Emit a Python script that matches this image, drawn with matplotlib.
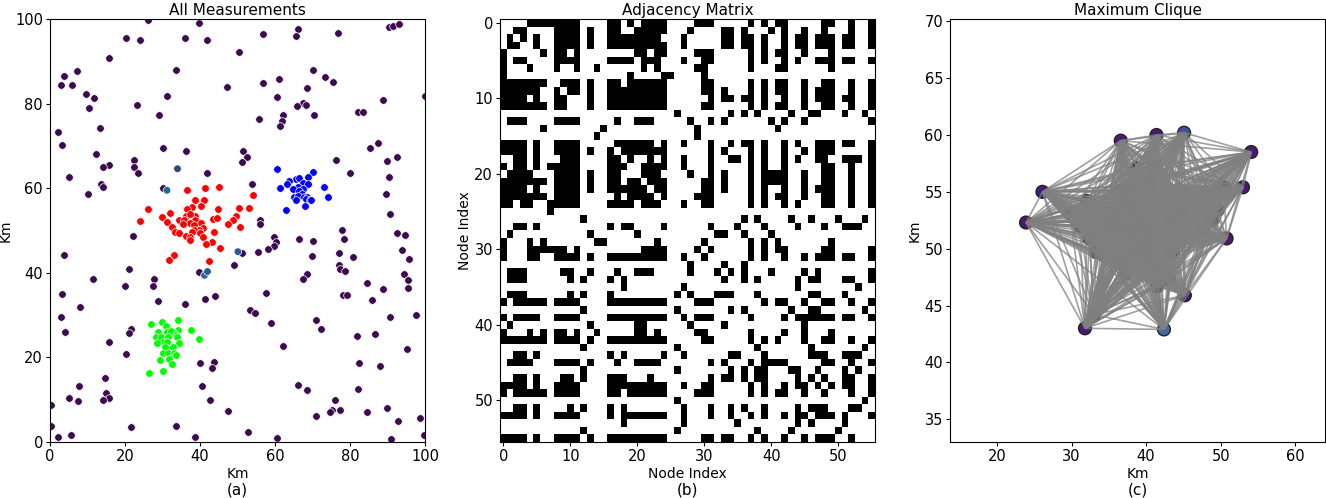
import matplotlib

matplotlib.use("Agg")
import matplotlib.pyplot as plt
import numpy as np
from matplotlib.collections import LineCollection

# clutter points, km
clutter_x = [26.2, 39.8, 20.3, 24, 35.9, 41.8, 56.7, 66, 65.6, 76.9, 90.3, 91.6, 93.2, 50.5, 15.6, 33.6, 70.2, 7.3, 3.6, 73.3,
             61, 75.6, 56.9, 3, 5.8, 47.2, 68.6, 9.5, 11.6, 31.3, 60.4, 88.9, 99.9, 67.6, 68.2, 65.8, 23.3, 10.3, 82.2, 83.6,
             29, 70.3, 62, 55.6, 61.9, 61.2, 13.3, 2.1, 3.2, 87.5, 85.4, 30.2, 51.6, 36.3, 12.2, 52.6, 92.4, 22.4, 76.2, 51.1,
             90, 15.6, 14, 22.3, 41.9, 23.5, 79.9, 90.3, 5, 13.5, 14, 54, 30.1, 10.2, 89.6, 90.8, 56.1, 56, 78, 92.4,
             94.7, 22, 78.4, 59.6, 60.2, 66.3, 70.1, 59.6, 58, 93.8, 3.7, 51.1, 55.4, 77, 70, 80.7, 95.7, 77, 77.3, 78.8,
             49.1, 21.1, 39.6, 68.6, 67.6, 94.3, 95.6, 11.4, 27.6, 19.9, 27.5, 84.4, 88.8, 95.4, 3.1, 57.5, 78.1, 79.3, 44.1, 41.2,
             86, 28.7, 35.9, 7.9, 53.2, 54.8, 97.6, 2.8, 90.8, 71, 58.8, 21.6, 72.2, 21, 3.9, 86.6, 81.9, 15.7, 62, 95.1,
             20.2, 40.1, 82.3, 43.8, 88.1, 43.1, 14.6, 7.7, 40.5, 66, 68.5, 82.2, 15, 5.1, 7.4, 15.6, 14, 75.9, 42.6, 0.2,
             47.4, 89.8, 75.2, 77.2, 74.8, 84.6, 70.9, 98.7, 92.7, 33.7, 0.3, 21.7, 52.7, 99.7, 2.2, 5.7, 38.6, 60.4, 90.9]
clutter_y = [99.8, 99.1, 95.5, 95, 95.4, 95.1, 96.5, 97.7, 96, 96.6, 98, 98.3, 98.8, 92.2, 90.7, 88, 88, 87.6, 86.5, 86.2,
             85.7, 85.2, 84.9, 84.3, 84.4, 84, 83.8, 82.3, 81.3, 81.8, 81.5, 80.9, 81.8, 80.2, 79.6, 79.5, 79.6, 78.9, 77.9, 78,
             77.2, 77.2, 77.2, 76.4, 75.8, 74.6, 74.3, 73.3, 70.2, 70.6, 69.5, 69.4, 68.8, 68.7, 68.1, 67.3, 67.4, 66.6, 66.7, 66.1,
             66.4, 65.4, 65, 65, 63.7, 63.5, 63.6, 62.6, 62.7, 61, 60.2, 60.9, 60, 58.7, 58.6, 53.9, 52.5, 51.6, 50, 49.3,
             48.9, 48.7, 48.1, 48.4, 47.3, 48, 47.6, 46.3, 45.7, 45.4, 44.2, 44.6, 44.9, 44.6, 43.9, 43.8, 43.2, 41.9, 41, 40.4,
             41.8, 40.9, 40.3, 39.6, 38.6, 39.8, 38.4, 38.6, 38.6, 36.9, 36.9, 37.7, 36.2, 36.3, 34.9, 35.3, 34.8, 34.8, 34.5, 33.8,
             33.5, 33.4, 32.6, 31.9, 31.2, 30.5, 30.1, 29.6, 29.5, 28.8, 28.2, 26.7, 26.7, 25.8, 26, 25.6, 25.1, 23.6, 22.8, 22.1,
             20.9, 18.6, 18.7, 18.9, 17.9, 17.5, 15.1, 13.2, 13.2, 13.5, 12.4, 12.5, 11.5, 10.3, 9.8, 10.3, 9.9, 10, 10, 8.7,
             7.4, 8, 7.6, 7.6, 7, 7.2, 6.2, 5.6, 5, 3.9, 3.8, 3.5, 2.4, 1.7, 1.3, 1.7, 1.3, 0.9, 0.8]

# the few clutter points that are not the darkest colour
other_x = [31.2, 34, 50.1, 41.2, 42]
other_y = [59.5, 64.6, 45, 39.4, 40.3]
other_colors = ["#1f6f8b", "#31467f", "#2c5c94", "#2a629c", "#2b5a8e"]

red_x = [36.6, 41.4, 45.1, 54.1, 38.8, 41, 37.9, 40.3, 36.5, 26.1, 44.7, 50.4, 53, 32.1, 49.6, 29.8, 38.6, 36.4, 37.3, 43.4,
         44.6, 23.9, 31.1, 34.4, 35.8, 38.7, 48.8, 40.4, 37.2, 35.5, 38.4, 47.6, 32.4, 50.8, 40.7, 39.7, 38.5, 38, 33.3, 34.5,
         39.9, 43.6, 36.4, 37.2, 40.9, 43.1, 41.5, 45.2, 37.3, 33, 31.8, 42.4]
red_y = [59.5, 60, 60.2, 58.5, 57.1, 57.2, 55.6, 55.7, 55.1, 55, 55, 55.4, 55.4, 54.2, 53.4, 53.1, 53.4, 53.5, 53.8, 52.8,
         52.9, 52.3, 52, 52.4, 52.4, 52.4, 52.5, 51.7, 51.7, 51.6, 51.4, 51.5, 50.9, 50.9, 50.7, 50.2, 50.1, 49.6, 49.7, 49.4,
         49.4, 49.6, 48.8, 48.4, 48.5, 47.3, 46.7, 45.9, 47.8, 44.2, 43, 42.9]

blue_x = [60.5, 70.1, 68.9, 65.6, 66.3, 63.6, 63.1, 67.6, 68.8, 61.2, 73.1, 66, 64.8, 67.6, 66.4, 67.1, 65.1, 66, 67.8, 68.6,
          74.2, 65.6, 68.2, 69.2, 69.7, 62.8, 68]
blue_y = [64.5, 63.9, 62.6, 62.1, 62.3, 61.7, 61.1, 61.3, 60.9, 60, 60.2, 60.2, 59.7, 59.8, 59.3, 58.7, 58, 58.1, 58, 57.9,
          58, 57.3, 57.5, 57.2, 57.2, 54.9, 55.7]

green_x = [34.2, 29.8, 26.9, 30.8, 37.7, 34.2, 28.7, 31.1, 32.7, 32.2, 33.6, 28.3, 29.7, 31.4, 33.8, 39.7, 30, 31.3, 28.4, 34.3,
           30.7, 32.8, 30.1, 31.5, 33, 33.5, 31.6, 29.3, 32.4, 30.1, 26.4]
green_y = [28.8, 28.3, 27.8, 27.5, 26.4, 26.4, 26.1, 26, 25.9, 26.2, 25.3, 24.9, 24.9, 24.8, 24.8, 24.4, 23.7, 23.7, 23.4, 23.4,
           22.5, 22.5, 21.1, 21.1, 21, 20.5, 19.7, 19.3, 18.4, 16.7, 16.4]

# upper triangle of the adjacency matrix, columns set per row
adj_rows = [
    "4-11 16 17 19 21-24 29-31 37 39 41 42 48 49 52 55",
    "2 3 8-11 13 16 17 20-24 28 33 34 36 40 42 45 48 52 55",
    "3 5 8-11 13 16-23 27 33 34 36 37 39 42 44 45 47-49 51 52 55",
    "5 8-11 13 16-24 27 33 34 36 37 39 42 44 45 47-49 51 52 55",
    "6 8 9 11 20 21 23 24 29-31 37 39 41 42 45 49",
    "8-11 16-19 21-23 27 30 31 37 39 42 44 47-49 51 52 55",
    "8 11 14 21 23 29 30 37 41 42 49",
    "19 24 25 30",
    "9-11 13 16 17 19-24 30 31 37 39 41 42 45 48 49 52 55",
    "10 11 13 16-24 30 31 33 37 39 41 42 45 47-49 52 55",
    "13 16-24 31 33 34 36 37 39 42 45 47-49 51 52 55",
    "13 16-24 30 31 37 39 41 42 45 48 49 52 55",
    "26 34 36 38 43 46 47 51 54",
    "17 20-22 28 31 33 40 42 45 55",
    "15 29 41",
    "29",
    "17-22 24 27 31 34 36 37 39 42 44 47-49 51 52 55",
    "18-24 31 33 37 39 42 45 47-49 55",
    "19 22 24 27 31 34 35 37 39 42 44 47 48 51-53 55",
    "21-24 27 31 37 39 42 48 49 52 55",
    "21-23 28 31 33 37 39-42 45 48 49 52 55",
    "22-24 30 31 33 37 39-42 45 48 49 52 55",
    "23 24 30 31 33 37 39 42 45 47-49 52 55",
    "24 29-31 37 39 41 42 45 48 49 52 55",
    "27 30 31 37 39 42 44 48 49 52 55",
    "",
    "36 38 43 46 50 54",
    "31 35 39 44 48 51-53",
    "32 33 36 40",
    "30 37 39 41 49",
    "31 37 39 41 42 48 49 55",
    "37 39 42 45 47-49 51 52 55",
    "33 36",
    "34 36 40 45 47 55",
    "36 38 44 46 47 51 52 55",
    "44 53",
    "38 46 47 51",
    "39 41 42 45 48 49 52 55",
    "43 46 47 54",
    "42 44-49 51 52 55",
    "45",
    "42 45 49",
    "45 48 49 52 55",
    "46 54",
    "46-48 51-53",
    "48 49 52 55",
    "47 51 53",
    "48 51 52 55",
    "49 51 52 55",
    "52 55",
    "54",
    "52 53",
    "55",
    "",
    "",
    "",
]

# colour value of the clique nodes, most are the dark end
clique_colors = {"default": "#4a1a6e", 2: "#484f9c", 51: "#3f6aa6"}


def parse_row(text):
    cols = []
    for part in text.split():
        if "-" in part:
            a, b = part.split("-")
            cols.extend(range(int(a), int(b) + 1))
        else:
            cols.append(int(part))
    return cols


def px_axes(fig, left, right, top, bottom):
    w, h = fig.get_size_inches() * fig.dpi
    return fig.add_axes([left / w, 1 - bottom / h, (right - left) / w, (bottom - top) / h])


def main():
    fig = plt.figure(figsize=(13.26, 4.98), dpi=100)

    # (a) all measurements
    ax = px_axes(fig, 50, 425, 19, 442)
    ax.scatter(clutter_x, clutter_y, s=30, color="#3d0a4f", edgecolors="white", linewidths=0.5, clip_on=True)
    ax.scatter(other_x, other_y, s=30, color=other_colors, edgecolors="white", linewidths=0.5)
    ax.scatter(red_x, red_y, s=30, color="#ff0000", edgecolors="white", linewidths=0.5)
    ax.scatter(blue_x, blue_y, s=30, color="#0000ff", edgecolors="white", linewidths=0.5)
    ax.scatter(green_x, green_y, s=30, color="#00ff00", edgecolors="white", linewidths=0.5)
    ax.set_xlim(0, 100)
    ax.set_ylim(0, 100)
    ax.set_xlabel("Km", fontsize=10, labelpad=2)
    ax.set_ylabel("Km", fontsize=10, labelpad=2)
    ax.set_title("All Measurements", fontsize=11, pad=3)
    ax.tick_params(labelsize=10.5, length=3, pad=2)

    # (b) adjacency matrix
    n = len(adj_rows)
    adj = np.zeros((n, n))
    for r, text in enumerate(adj_rows):
        for c in parse_row(text):
            adj[r, c] = 1
            adj[c, r] = 1
    ax = px_axes(fig, 500, 875, 19, 442)
    ax.imshow(adj, cmap="gray_r", aspect="auto", interpolation="nearest")
    ax.set_xticks(range(0, 51, 10))
    ax.set_yticks(range(0, 51, 10))
    ax.set_xlabel("Node Index", fontsize=10, labelpad=2)
    ax.set_ylabel("Node Index", fontsize=10, labelpad=2)
    ax.set_title("Adjacency Matrix", fontsize=11, pad=3)
    ax.tick_params(labelsize=10.5, length=3, pad=2)

    # (c) maximum clique, every red point joined to every other
    ax = px_axes(fig, 950, 1325, 19, 442)
    colors = [clique_colors.get(i, clique_colors["default"]) for i in range(len(red_x))]
    ax.scatter(red_x, red_y, s=85, color=colors, edgecolors="#222222", linewidths=1.0, zorder=1)
    pts = np.column_stack([red_x, red_y])
    segs = [[pts[i], pts[j]] for i in range(len(pts)) for j in range(i + 1, len(pts))]
    ax.add_collection(LineCollection(segs, colors="gray", linewidths=1.2, alpha=0.75, zorder=2))
    ax.set_xlim(13.7, 64)
    ax.set_ylim(33.0, 70.2)
    ax.set_xlabel("Km", fontsize=10, labelpad=2)
    ax.set_ylabel("Km", fontsize=10, labelpad=2)
    ax.set_title("Maximum Clique", fontsize=11, pad=3)
    ax.tick_params(labelsize=10.5, length=3, pad=2)

    for label, x in zip(["(a)", "(b)", "(c)"], [237.5, 687.5, 1137.5]):
        fig.text(x / 1326, 1 - 490 / 498, label, fontsize=11, ha="center", va="center")

    fig.savefig("out.png", dpi=100)


if __name__ == "__main__":
    main()
